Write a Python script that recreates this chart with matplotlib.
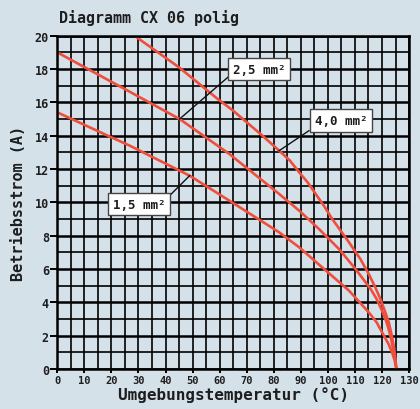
import matplotlib.pyplot as plt
from matplotlib.ticker import MultipleLocator

# curves (temperature in °C, current in A)
t_15 = [0, 20, 26.8, 48.9, 63.6, 82, 89.4, 98.6, 107.8, 115.1, 118, 120.7, 122.4, 123.7, 124.7, 125.3]
i_15 = [15.4, 13.9, 13.4, 11.6, 10.1, 8.2, 7.3, 6.0, 4.7, 3.4, 2.8, 2.0, 1.5, 1.0, 0.5, 0]

t_25 = [0, 31.7, 45.2, 54, 63.6, 82, 89.4, 96.7, 104.1, 110.2, 115.8, 118, 120, 121.7,
        123.1, 124.2, 125, 125.3]
i_25 = [19.0, 16.2, 15.0, 14.0, 12.9, 10.5, 9.5, 8.4, 7.2, 6.0, 4.8, 4.2, 3.5, 2.8,
        2.0, 1.1, 0.4, 0]

t_40 = [28.5, 45, 59.3, 65, 75.8, 82, 86, 89.4, 92.5, 95.5, 98.5, 101.6, 104.7, 107.8,
        112, 115.1, 117.5, 119.4, 121, 122.5, 123.6, 124.3, 124.9, 125.3]
i_40 = [20.0, 18.1, 16.2, 15.5, 14.0, 13.1, 12.5, 11.8, 11.2, 10.5, 9.8, 9.0, 8.3, 7.6,
        6.6, 5.7, 4.9, 4.2, 3.5, 2.8, 2.0, 1.4, 0.7, 0]

labels = ['1,5 mm²', '2,5 mm²', '4,0 mm²']
label_pos = [(30.2, 9.9), (74.6, 18.0), (105.0, 14.9)]
label_tip = [(48.9, 11.6), (45.2, 15.0), (82.0, 13.1)]
label_base = [(42.1, 10.5), (63.0, 17.5), (93.0, 14.3)]

bg = '#d5e1e9'
red = '#f04e3c'
txt = '#1e1e1e'
plt.rcParams['font.family'] = ['DejaVu Sans Mono', 'DejaVu Sans']
plt.rcParams['font.weight'] = 'bold'

fig = plt.figure(figsize=(4.2, 4.1), dpi=100, facecolor=bg)
ax = fig.add_axes([0.1364, 0.0976, 0.974 - 0.1364, 0.9105 - 0.0976])
ax.set_facecolor(bg)

ax.set_xlim(0, 130)
ax.set_ylim(0, 20)
ax.xaxis.set_major_locator(MultipleLocator(10))
ax.xaxis.set_minor_locator(MultipleLocator(5))
ax.yaxis.set_major_locator(MultipleLocator(2))
ax.yaxis.set_minor_locator(MultipleLocator(1))

ax.grid(which='minor', color='black', linewidth=1.2)
ax.grid(which='major', axis='x', color='black', linewidth=1.2)
ax.grid(which='major', axis='y', color='black', linewidth=1.8)
ax.set_axisbelow(True)

for s in ax.spines.values():
    s.set_linewidth(1.8)
    s.set_color('black')

ax.tick_params(which='major', axis='y', length=5, width=1.4, labelsize=8.5,
               labelcolor=txt, pad=1)
ax.tick_params(which='major', axis='x', length=3, width=1.4, labelsize=7.5,
               labelcolor=txt, pad=1)
ax.tick_params(which='minor', length=0)

for t, i in [(t_15, i_15), (t_25, i_25), (t_40, i_40)]:
    ax.plot(t, i, color=red, linewidth=1.9, solid_joinstyle='round')

for lab, pos, tip, base in zip(labels, label_pos, label_tip, label_base):
    ax.plot([base[0], tip[0]], [base[1], tip[1]], color='#111111', linewidth=1.0)
    ax.text(pos[0], pos[1], lab, ha='center', va='center', fontsize=9,
            color=txt, fontweight='bold',
            bbox=dict(boxstyle='square,pad=0.38', facecolor='white',
                      edgecolor='#444444', linewidth=1.0))

ax.set_xlabel('Umgebungstemperatur (°C)', fontsize=11.5, color=txt,
              fontweight='bold', labelpad=1)
ax.set_ylabel('Betriebsstrom (A)', fontsize=11, color=txt,
              fontweight='bold', labelpad=6)
fig.text(59 / 420, 1 - 18 / 410, 'Diagramm CX 06 polig', fontsize=10.8,
         color=txt, fontweight='bold', ha='left', va='center')

fig.savefig('out.png', dpi=100, facecolor=bg)
